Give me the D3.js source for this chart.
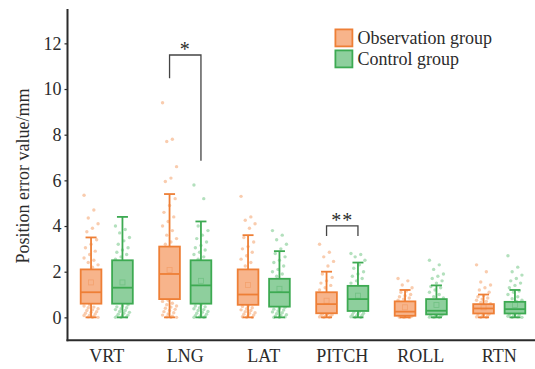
<!DOCTYPE html>
<html>
<head>
<meta charset="utf-8">
<script src="https://cdn.jsdelivr.net/npm/d3@7"></script>
<style>
  html, body { margin: 0; padding: 0; background: #fff; }
  svg { display: block; font-family: "Liberation Serif", "Times New Roman", serif; }
</style>
</head>
<body>
<div id="chart"></div>
<script>
const categories = ['VRT', 'LNG', 'LAT', 'PITCH', 'ROLL', 'RTN'];
const seriesNames = ['Observation group', 'Control group'];
const yTicks = [0, 2, 4, 6, 8, 10, 12];

// box stats per category: [low whisker, q1, median, q3, high whisker, mean]
const obsStats = [
  [0, 0.6, 1.1, 2.1, 3.5, 1.53],
  [0, 0.8, 1.9, 3.1, 5.4, 2.07],
  [0, 0.55, 1.0, 2.1, 3.6, 1.42],
  [0, 0.18, 0.58, 1.1, 2.0, 0.73],
  [0, 0.07, 0.25, 0.7, 1.2, 0.44],
  [0, 0.17, 0.39, 0.58, 1.0, 0.44]
];
const ctrlStats = [
  [0, 0.6, 1.3, 2.5, 4.4, 1.53],
  [0, 0.6, 1.4, 2.5, 4.2, 1.6],
  [0, 0.47, 1.1, 1.69, 2.9, 1.25],
  [0, 0.28, 0.8, 1.38, 2.4, 0.95],
  [0, 0.13, 0.29, 0.8, 1.4, 0.54],
  [0, 0.17, 0.36, 0.68, 1.2, 0.54]
];

// individual measurements (jittered dots)
const obsPoints = [
  [5.35, 4.7, 4.35, 4.1, 3.9, 3.75, 3.4, 3.2, 3.05, 2.9, 2.75, 2.6, 2.5, 2.4, 2.3, 2.2, 1.9, 1.6, 1.3, 1.0, 0.8,
   0.55, 0.5, 0.45, 0.42, 0.38, 0.33, 0.3, 0.25, 0.22, 0.18, 0.15, 0.1, 0.08, 0.05, 0.02, 0, 0],
  [9.4, 7.8, 7.7, 6.6, 6.1, 5.95, 5.2, 4.9, 4.6, 4.4, 4.2, 4.0, 3.8, 3.6, 3.45, 3.3, 3.2, 2.8, 2.2, 1.5, 1.0,
   0.75, 0.7, 0.62, 0.55, 0.5, 0.45, 0.4, 0.35, 0.3, 0.25, 0.2, 0.15, 0.1, 0.05, 0.02, 0, 0],
  [5.3, 4.4, 4.25, 4.1, 3.9, 3.5, 3.3, 3.1, 3.0, 2.85, 2.7, 2.55, 2.4, 2.25, 1.8, 1.4, 1.1, 0.8,
   0.5, 0.48, 0.42, 0.38, 0.33, 0.3, 0.25, 0.2, 0.18, 0.14, 0.1, 0.06, 0.03, 0, 0],
  [3.2, 2.85, 2.65, 2.45, 2.25, 1.9, 1.75, 1.6, 1.5, 1.4, 1.3, 1.2, 0.9, 0.6, 0.4,
   0.16, 0.14, 0.12, 0.1, 0.08, 0.06, 0.04, 0.02, 0, 0],
  [1.7, 1.6, 1.42, 1.3, 1.15, 1.1, 1.0, 0.95, 0.9, 0.85, 0.8, 0.75, 0.5, 0.3,
   0.06, 0.05, 0.04, 0.03, 0.02, 0.01, 0, 0],
  [2.3, 2.0, 1.55, 1.42, 1.3, 1.2, 1.1, 0.95, 0.9, 0.85, 0.8, 0.75, 0.7, 0.65, 0.6, 0.5, 0.3,
   0.15, 0.12, 0.1, 0.08, 0.05, 0.02, 0, 0]
];
const ctrlPoints = [
  [4.0, 3.85, 3.7, 3.5, 3.35, 3.2, 3.05, 2.95, 2.85, 2.75, 2.65, 2.55, 2.2, 1.8, 1.4, 1.0, 0.8,
   0.55, 0.5, 0.46, 0.42, 0.38, 0.34, 0.3, 0.26, 0.22, 0.18, 0.14, 0.1, 0.07, 0.04, 0.02, 0, 0],
  [5.8, 5.2, 4.0, 3.8, 3.6, 3.45, 3.3, 3.15, 3.05, 2.95, 2.85, 2.75, 2.65, 2.55, 2.1, 1.7, 1.2, 0.9,
   0.55, 0.5, 0.46, 0.42, 0.38, 0.34, 0.3, 0.26, 0.22, 0.18, 0.14, 0.1, 0.07, 0.04, 0.02, 0, 0],
  [3.8, 3.6, 3.4, 3.2, 3.0, 2.8, 2.65, 2.5, 2.4, 2.25, 2.1, 2.0, 1.9, 1.8, 1.5, 1.2, 0.8,
   0.44, 0.4, 0.36, 0.32, 0.28, 0.24, 0.2, 0.16, 0.12, 0.08, 0.05, 0.02, 0, 0],
  [2.8, 2.75, 2.65, 2.5, 2.3, 2.15, 2.0, 1.9, 1.8, 1.7, 1.6, 1.5, 1.1, 0.7, 0.4,
   0.25, 0.22, 0.18, 0.15, 0.12, 0.09, 0.06, 0.03, 0, 0],
  [2.5, 2.3, 2.1, 1.9, 1.8, 1.7, 1.6, 1.5, 1.35, 1.3, 1.2, 1.1, 1.0, 0.9, 0.85, 0.5, 0.3,
   0.11, 0.09, 0.07, 0.05, 0.03, 0.01, 0, 0],
  [2.7, 2.2, 2.0, 1.85, 1.7, 1.6, 1.5, 1.4, 1.3, 1.15, 1.1, 1.0, 0.9, 0.82, 0.75, 0.7, 0.5, 0.3,
   0.15, 0.12, 0.1, 0.07, 0.05, 0.02, 0, 0]
];

// significance brackets: [category, left end, top, right end, label]
const brackets = [
  ['LNG', 10.47, 11.49, 6.86, '*'],
  ['PITCH', 3.56, 4.01, 3.56, '**']
];

const colors = {
  stroke: ['#ee7f36', '#3daa52'],
  fill: ['#f7b48b', '#8ecf9d'],
  dot: ['#f8c3a0', '#a6dbb2']
};

const W = 535, H = 369;
const svg = d3.select('#chart').append('svg')
  .attr('width', W)
  .attr('height', H);

const x = d3.scaleBand()
  .domain(categories)
  .range([67.5, 538.5]);

const y = d3.scaleLinear()
  .domain([-1, 13.5])
  .range([340.2, 9.1]);

const boxW = 20.7;
const offset = 15.7;
const textColor = '#2b2b2b';

// y axis
const yAxis = svg.append('g')
  .attr('transform', 'translate(67.5,0)')
  .call(d3.axisLeft(y).tickValues(yTicks).tickSize(3).tickSizeOuter(0).tickPadding(3));
yAxis.select('.domain').remove();
yAxis.selectAll('line').attr('stroke', textColor).attr('stroke-width', 1.2);
yAxis.selectAll('text')
  .attr('fill', textColor)
  .style('font-size', '18px')
  .style('font-family', '"Liberation Serif", serif');

// x axis
const xAxis = svg.append('g')
  .attr('transform', 'translate(0,340.2)')
  .call(d3.axisBottom(x).tickSize(0).tickPadding(9));
xAxis.select('.domain').remove();
xAxis.selectAll('text')
  .attr('fill', textColor)
  .attr('dy', '0.71em')
  .style('font-size', '18px')
  .style('font-family', '"Liberation Serif", serif');

svg.append('line')
  .attr('x1', 67.5).attr('x2', 67.5)
  .attr('y1', y.range()[1]).attr('y2', y.range()[0] + 1)
  .attr('stroke', textColor).attr('stroke-width', 2);
svg.append('line')
  .attr('x1', 66.5).attr('x2', W)
  .attr('y1', y.range()[0]).attr('y2', y.range()[0])
  .attr('stroke', textColor).attr('stroke-width', 2);

// axis title
svg.append('text')
  .attr('transform', 'translate(29,176) rotate(-90)')
  .attr('text-anchor', 'middle')
  .attr('fill', textColor)
  .style('font-size', '18px')
  .text('Position error value/mm');

const plot = svg.append('g');

[obsStats, ctrlStats].forEach((stats, s) => {
  const points = s === 0 ? obsPoints : ctrlPoints;
  categories.forEach((cat, i) => {
    const cx = x(cat) + x.bandwidth() / 2 + (s === 0 ? -offset : offset);
    const [lo, q1, med, q3, hi, mean] = stats[i];
    const g = plot.append('g');

    // dots behind box
    g.selectAll('circle')
      .data(points[i])
      .join('circle')
      .attr('cx', (d, k) => cx + (((k * 7) % 11) - 5) * 1.4)
      .attr('cy', d => y(d))
      .attr('r', 1.7)
      .attr('fill', colors.dot[s])
      .attr('opacity', 0.85);

    // whiskers
    g.append('line')
      .attr('x1', cx).attr('x2', cx)
      .attr('y1', y(hi)).attr('y2', y(lo))
      .attr('stroke', colors.stroke[s]).attr('stroke-width', 1.8);
    [lo, hi].forEach(v => {
      g.append('line')
        .attr('x1', cx - 5.5).attr('x2', cx + 5.5)
        .attr('y1', y(v)).attr('y2', y(v))
        .attr('stroke', colors.stroke[s]).attr('stroke-width', 1.8);
    });

    // box
    g.append('rect')
      .attr('x', cx - boxW / 2)
      .attr('y', y(q3))
      .attr('width', boxW)
      .attr('height', y(q1) - y(q3))
      .attr('fill', colors.fill[s])
      .attr('stroke', colors.stroke[s])
      .attr('stroke-width', 1.8);
    g.append('line')
      .attr('x1', cx - boxW / 2).attr('x2', cx + boxW / 2)
      .attr('y1', y(med)).attr('y2', y(med))
      .attr('stroke', colors.stroke[s]).attr('stroke-width', 1.8);

    // mean marker
    g.append('rect')
      .attr('x', cx - 2.5)
      .attr('y', y(mean) - 2.5)
      .attr('width', 5).attr('height', 5)
      .attr('fill', 'none')
      .attr('stroke', colors.stroke[s])
      .attr('stroke-opacity', 0.35)
      .attr('stroke-width', 0.8);
  });
});

// significance brackets
brackets.forEach(([cat, left, top, right, label]) => {
  const x1 = x(cat) + x.bandwidth() / 2 - offset;
  const x2 = x(cat) + x.bandwidth() / 2 + offset;
  svg.append('path')
    .attr('d', `M${x1},${y(left)}V${y(top)}H${x2}V${y(right)}`)
    .attr('fill', 'none')
    .attr('stroke', '#444')
    .attr('stroke-width', 1.3);
  svg.append('text')
    .attr('x', (x1 + x2) / 2)
    .attr('y', y(top) + 1)
    .attr('text-anchor', 'middle')
    .attr('fill', textColor)
    .style('font-size', '20px')
    .style('letter-spacing', '1px')
    .text(label);
});

// legend
const legend = svg.append('g').attr('transform', 'translate(334.5,28.5)');
seriesNames.forEach((name, s) => {
  const item = legend.append('g').attr('transform', `translate(0,${s * 21})`);
  item.append('rect')
    .attr('x', 0.9).attr('y', 0.9)
    .attr('width', 17).attr('height', 17)
    .attr('fill', colors.fill[s])
    .attr('stroke', colors.stroke[s])
    .attr('stroke-width', 1.8);
  item.append('text')
    .attr('x', 23)
    .attr('y', 15)
    .attr('fill', textColor)
    .style('font-size', '18px')
    .text(name);
});
</script>
</body>
</html>
